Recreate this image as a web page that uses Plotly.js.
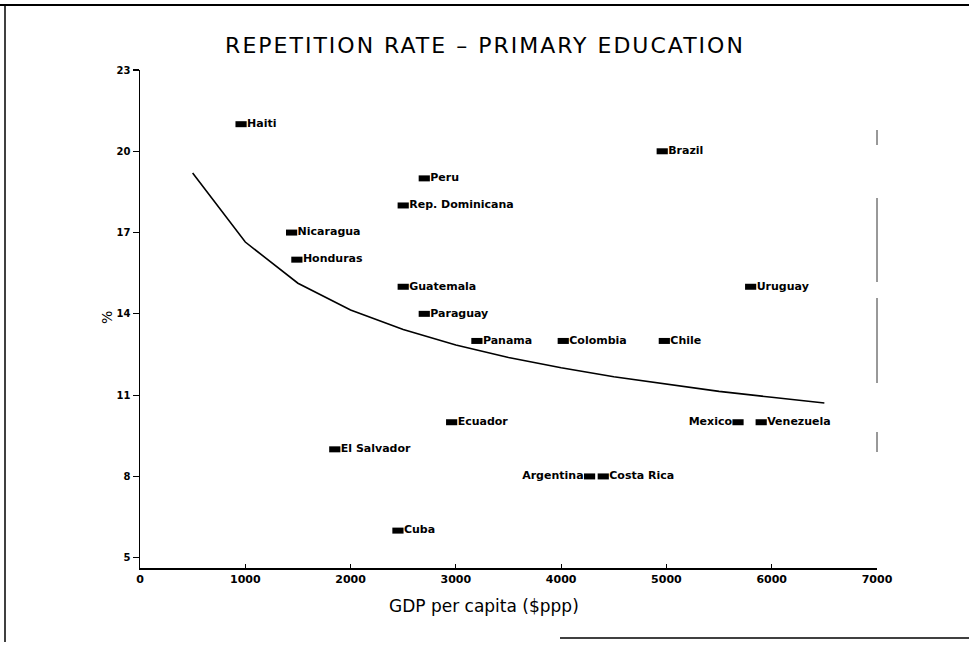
<!DOCTYPE html>
<html>
<head>
<meta charset="utf-8">
<script src="https://cdn.plot.ly/plotly-3.0.1.min.js"></script>
<style>
  html, body { margin: 0; padding: 0; background: #ffffff; }
  #chart { width: 969px; height: 647px; }
  #chart .gtitle { letter-spacing: 2px; }
</style>
</head>
<body>
<div id="chart"></div>
<script>
// ---- Data ----
const countries = ["Haiti", "Nicaragua", "Honduras", "El Salvador", "Cuba",
  "Rep. Dominicana", "Guatemala", "Peru", "Paraguay", "Ecuador", "Panama",
  "Colombia", "Argentina", "Costa Rica", "Brazil", "Chile", "Mexico",
  "Uruguay", "Venezuela"];
const gdpPerCapita = [960, 1440, 1490, 1850, 2450, 2500, 2500, 2700, 2700,
  2960, 3200, 4020, 4270, 4400, 4960, 4980, 5680, 5800, 5900];
const repetitionRate = [21, 17, 16, 9, 6, 18, 15, 19, 14, 10, 13, 13, 8, 8,
  20, 13, 10, 15, 10];

// fitted curve
const curveGdp = [500, 1000, 1500, 2000, 2500, 3000, 3500, 4000, 4500, 5000,
  5500, 6000, 6500];
const curveRate = [19.2, 16.65, 15.13, 14.14, 13.42, 12.85, 12.39, 12.01,
  11.68, 11.40, 11.14, 10.92, 10.71];

const xTicks = [0, 1000, 2000, 3000, 4000, 5000, 6000, 7000];
const yTicks = [5, 8, 11, 14, 17, 20, 23];

// countries whose label sits on the left of the marker
const leftLabelled = ["Mexico", "Argentina"];

const ink = "#000000";
const labelFont = { family: "DejaVu Sans", size: 11, color: ink, weight: "bold" };

const traces = [
  {
    type: "scatter",
    mode: "lines",
    x: curveGdp,
    y: curveRate,
    line: { color: ink, width: 1.6 },
    hoverinfo: "skip",
    showlegend: false
  },
  {
    type: "scatter",
    mode: "markers+text",
    x: gdpPerCapita,
    y: repetitionRate,
    text: countries,
    textposition: countries.map(c => leftLabelled.includes(c) ? "middle left" : "middle right"),
    textfont: labelFont,
    marker: { symbol: "line-ew", size: 8, color: ink, line: { color: ink, width: 6 } },
    cliponaxis: false,
    showlegend: false
  }
];

// pixel helpers for the decorative frame (plot area 140..877 x 70..568)
const PL = 140, PR = 877, PT = 70, PB = 568;
const px = v => (v - PL) / (PR - PL);
const py = v => (PB - v) / (PB - PT);

const seg = (x0, y0, x1, y1, w, c) => ({
  type: "line", xref: "paper", yref: "paper",
  x0: px(x0), x1: px(x1), y0: py(y0), y1: py(y1),
  line: { color: c || ink, width: w }
});

const layout = {
  width: 969,
  height: 647,
  margin: { l: PL, r: 969 - PR, t: PT, b: 647 - PB, pad: 0 },
  paper_bgcolor: "#ffffff",
  plot_bgcolor: "#ffffff",
  showlegend: false,
  title: {
    text: "REPETITION RATE – PRIMARY EDUCATION",
    font: { family: "DejaVu Sans", size: 22, color: ink },
    x: 485 / 969, xanchor: "center",
    y: 1 - 45 / 647, yanchor: "middle"
  },
  xaxis: {
    range: [0, 7000],
    tickvals: xTicks,
    ticktext: xTicks.map(String),
    showgrid: false, zeroline: false,
    showline: true, linecolor: ink, linewidth: 1.5,
    ticks: "inside", ticklen: 4, tickwidth: 1.2, tickcolor: ink,
    tickfont: { family: "DejaVu Sans", size: 11, color: ink, weight: "bold" },
    automargin: false,
    fixedrange: true
  },
  yaxis: {
    range: [4.62, 23],
    tickvals: yTicks,
    ticktext: yTicks.map(String),
    showgrid: false, zeroline: false,
    showline: true, linecolor: ink, linewidth: 1.5,
    ticks: "outside", ticklen: 6, tickwidth: 1.2, tickcolor: ink,
    tickfont: { family: "DejaVu Sans", size: 10, color: ink, weight: "bold" },
    automargin: false,
    fixedrange: true
  },
  annotations: [
    {
      text: "GDP per capita ($ppp)",
      xref: "paper", yref: "paper",
      x: px(484), y: py(606), xanchor: "center", yanchor: "middle",
      showarrow: false,
      font: { family: "DejaVu Sans", size: 17, color: ink }
    },
    {
      text: "%",
      xref: "paper", yref: "paper",
      x: px(107), y: py(318), xanchor: "center", yanchor: "middle",
      textangle: -90,
      showarrow: false,
      font: { family: "DejaVu Sans", size: 14, color: ink }
    }
  ],
  shapes: [
    // outer frame remnants
    seg(0, 5, 969, 5, 2),
    seg(5, 5, 5, 642, 1.5),
    seg(560, 638, 969, 638, 1.5),
    // broken right spine remnant
    seg(877, 130, 877, 145, 1, "#333333"),
    seg(877, 198, 877, 282, 1, "#333333"),
    seg(877, 298, 877, 383, 1, "#333333"),
    seg(877, 432, 877, 452, 1, "#333333")
  ]
};

Plotly.newPlot("chart", traces, layout, { displayModeBar: false, staticPlot: true });
</script>
</body>
</html>
